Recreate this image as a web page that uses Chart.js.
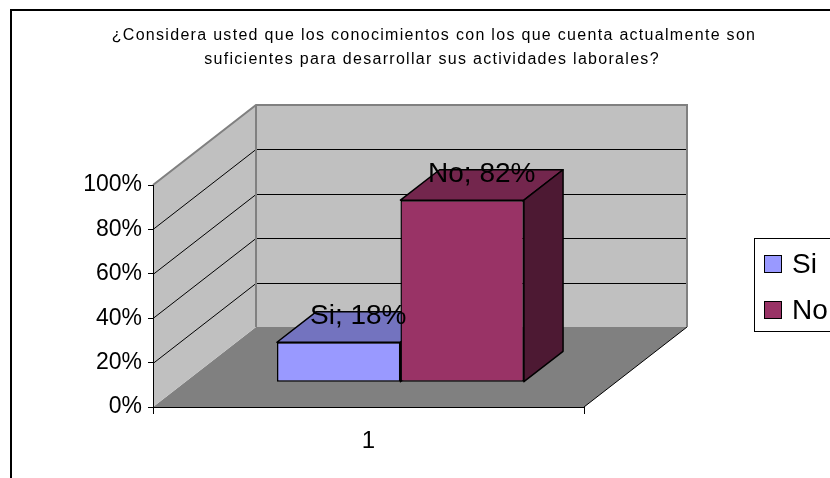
<!DOCTYPE html>
<html>
<head>
<meta charset="utf-8">
<script src="https://cdn.jsdelivr.net/npm/chart.js@4.4.1/dist/chart.umd.min.js"></script>
<style>
  html, body { margin: 0; padding: 0; background: #fff; overflow: hidden; }
  #wrap { position: relative; width: 830px; height: 478px; }
</style>
</head>
<body>
<div id="wrap"><canvas id="myChart" width="830" height="478"></canvas></div>
<script>
  const categories = ['1']
  const series_names = ['Si', 'No']
  const series_values = [[18], [82]]
  const y_ticks = [0, 20, 40, 60, 80, 100]
  const title_lines = [
    '¿Considera usted que los conocimientos con los que cuenta actualmente son',
    'suficientes para desarrollar sus actividades laborales?'
  ]

  const front_colors = ['#9999FF', '#993366']
  const top_colors = ['#7373BF', '#73264D']
  const side_colors = ['#4D4D80', '#4D1933']

  const font_family = "'Liberation Sans', Arial, sans-serif"

  // depth of the floor; bars sit between bar_front and bar_back (0 = front edge, 1 = back wall)
  const depth = { dx: 103, dy: -80 }
  const bar_front = 0.31
  const bar_back = 0.69

  function poly(ctx, pts) {
    ctx.beginPath()
    pts.forEach((p, i) => i == 0 ? ctx.moveTo(p[0], p[1]) : ctx.lineTo(p[0], p[1]))
    ctx.closePath()
  }

  // frame, title, floor and walls, drawn before the axes
  const walls3d = {
    id: 'walls3d',
    beforeDraw(chart) {
      const ctx = chart.ctx
      const a = chart.chartArea
      const y = chart.scales.y
      const dx = depth.dx, dy = depth.dy

      ctx.save()
      ctx.fillStyle = '#fff'
      ctx.fillRect(0, 0, chart.width, chart.height)

      ctx.strokeStyle = '#000'
      ctx.lineWidth = 2
      ctx.beginPath()
      ctx.moveTo(11, chart.height + 2)
      ctx.lineTo(11, 10)
      ctx.lineTo(chart.width + 2, 10)
      ctx.stroke()

      ctx.fillStyle = '#000'
      ctx.font = `16px ${font_family}`
      ctx.textAlign = 'center'
      ctx.textBaseline = 'alphabetic'
      ctx.letterSpacing = '1.3px'
      ctx.fillText(title_lines[0], 434, 40)
      ctx.fillText(title_lines[1], 432, 64)
      ctx.letterSpacing = '0px'

      // floor
      ctx.fillStyle = '#808080'
      poly(ctx, [[a.left, a.bottom], [a.right, a.bottom], [a.right + dx, a.bottom + dy], [a.left + dx, a.bottom + dy]])
      ctx.fill()

      // side wall and back wall
      ctx.fillStyle = '#C0C0C0'
      poly(ctx, [[a.left, a.bottom], [a.left, a.top], [a.left + dx, a.top + dy], [a.left + dx, a.bottom + dy]])
      ctx.fill()
      ctx.fillRect(a.left + dx, a.top + dy, a.right - a.left, a.bottom - a.top)

      // gridlines on both walls
      ctx.strokeStyle = '#000'
      ctx.lineWidth = 1
      y_ticks.slice(1, -1).forEach(v => {
        const py = Math.round(y.getPixelForValue(v)) + 0.5
        ctx.beginPath()
        ctx.moveTo(a.left, py)
        ctx.lineTo(a.left + dx, py + dy)
        ctx.lineTo(a.right + dx, py + dy)
        ctx.stroke()
      })

      ctx.beginPath()
      ctx.moveTo(a.right, a.bottom)
      ctx.lineTo(a.right + dx, a.bottom + dy)
      ctx.stroke()

      // wall edges
      ctx.strokeStyle = '#808080'
      ctx.lineWidth = 2
      ctx.beginPath()
      ctx.moveTo(a.left, a.top)
      ctx.lineTo(a.left + dx, a.top + dy)
      ctx.lineTo(a.right + dx, a.top + dy)
      ctx.lineTo(a.right + dx, a.bottom + dy)
      ctx.moveTo(a.left + dx, a.top + dy)
      ctx.lineTo(a.left + dx, a.bottom + dy)
      ctx.stroke()
      ctx.restore()
    }
  }

  // top and side faces of the bars; the fronts are drawn by chart.js, shifted into the floor
  const bars3d = {
    id: 'bars3d',
    beforeDatasetsDraw(chart) {
      const ctx = chart.ctx
      const kx = depth.dx * (bar_back - bar_front)
      const ky = depth.dy * (bar_back - bar_front)
      ctx.save()
      ctx.translate(depth.dx * bar_front, depth.dy * bar_front)
      ctx.strokeStyle = '#000'
      ctx.lineWidth = 1.5
      ctx.lineJoin = 'round'
      chart.data.datasets.forEach((ds, i) => {
        chart.getDatasetMeta(i).data.forEach(bar => {
          const { x, y, base, width } = bar.getProps(['x', 'y', 'base', 'width'], true)
          const l = x - width / 2, r = x + width / 2
          ctx.fillStyle = top_colors[i]
          poly(ctx, [[l, y], [r, y], [r + kx, y + ky], [l + kx, y + ky]])
          ctx.fill()
          ctx.stroke()
          ctx.fillStyle = side_colors[i]
          poly(ctx, [[r, y], [r + kx, y + ky], [r + kx, base + ky], [r, base]])
          ctx.fill()
          ctx.stroke()
        })
      })
    },
    afterDatasetsDraw(chart) {
      const ctx = chart.ctx
      ctx.restore()
      const mid = (bar_front + bar_back) / 2
      ctx.save()
      ctx.fillStyle = '#000'
      ctx.font = `28px ${font_family}`
      ctx.textAlign = 'center'
      ctx.textBaseline = 'alphabetic'
      chart.data.datasets.forEach((ds, i) => {
        chart.getDatasetMeta(i).data.forEach((bar, j) => {
          ctx.fillText(`${ds.label}; ${ds.data[j]}%`, bar.x + depth.dx * mid, bar.y + depth.dy * mid - 3)
        })
      })
      ctx.restore()
    }
  }

  // legend with a box round it
  const legend_box = {
    id: 'legend_box',
    afterDraw(chart) {
      const ctx = chart.ctx
      ctx.save()
      ctx.strokeStyle = '#000'
      ctx.lineWidth = 1
      ctx.strokeRect(754.5, 238.5, 200, 93)
      ctx.font = `28px ${font_family}`
      ctx.textBaseline = 'middle'
      chart.data.datasets.forEach((ds, i) => {
        const cy = 264 + i * 46
        ctx.fillStyle = ds.backgroundColor
        ctx.fillRect(764.5, cy - 8.5, 17, 17)
        ctx.strokeRect(764.5, cy - 8.5, 17, 17)
        ctx.fillStyle = '#000'
        ctx.fillText(ds.label, 792, cy + 1)
      })
      ctx.restore()
    }
  }

  const config = {
    type: 'bar',
    data: {
      labels: categories,
      datasets: series_names.map((name, i) => ({
        label: name,
        data: series_values[i],
        backgroundColor: front_colors[i],
        borderColor: '#000',
        borderWidth: 1.5,
        borderSkipped: false,
        barPercentage: 1,
        categoryPercentage: 0.573
      }))
    },
    options: {
      responsive: false,
      animation: false,
      layout: { padding: { top: 185, right: 246, left: 0, bottom: 0 } },
      plugins: {
        legend: { display: false },
        title: { display: false },
        tooltip: { enabled: false }
      },
      scales: {
        x: {
          grid: { drawOnChartArea: false, color: '#000', tickLength: 7 },
          border: { color: '#000' },
          ticks: { color: '#000', font: { family: font_family, size: 24 }, padding: 13 },
          afterFit(scale) { scale.height = 71 }
        },
        y: {
          min: 0,
          max: 100,
          ticks: { stepSize: 20, callback: v => v + '%', color: '#000', font: { family: font_family, size: 23 }, padding: 6 },
          grid: { drawOnChartArea: false, color: '#000', tickLength: 5 },
          border: { color: '#000' },
          afterFit(scale) { scale.width = 153 }
        }
      }
    },
    plugins: [walls3d, bars3d, legend_box]
  }

  const myChart = new Chart(document.getElementById('myChart'), config)
</script>
</body>
</html>
